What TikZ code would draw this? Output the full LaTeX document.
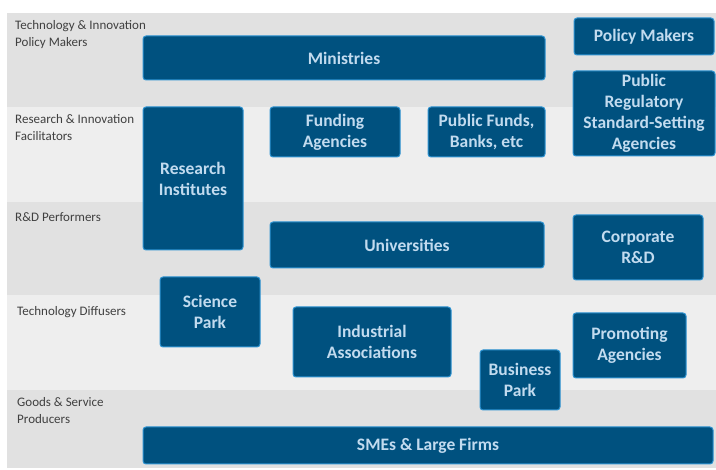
\documentclass[tikz,border=0pt]{standalone}
\usepackage{fontspec}
\setmainfont{Carlito}
\definecolor{bandA}{HTML}{E1E1E1}
\definecolor{bandB}{HTML}{EEEEEE}
\definecolor{boxfill}{HTML}{00517F}
\definecolor{boxline}{HTML}{2E93D1}
\definecolor{boxtext}{HTML}{C2DBEF}
\definecolor{lbltext}{HTML}{404040}
\tikzset{
  actor/.style={draw=boxline, line width=1pt, fill=boxfill, rounded corners=3pt,
    text=boxtext, font=\fontsize{17.5}{21}\selectfont\bfseries, align=center, inner sep=0pt},
  tier/.style={anchor=north west, text=lbltext, font=\fontsize{13}{17}\selectfont,
    align=left, inner sep=0pt}
}
\begin{document}
\begin{tikzpicture}[x=1pt,y=-1pt]
      \useasboundingbox (0,0) rectangle (716,470);
      % tiers
      \fill[bandA] (7,13) rectangle (716,107);
      \fill[bandB] (7,107) rectangle (716,202);
      \fill[bandA] (7,202) rectangle (716,295);
      \fill[bandB] (7,295) rectangle (716,390);
      \fill[bandA] (7,390) rectangle (716,468);
      \node[tier] (t1) at (15,20) {Technology \& Innovation\\Policy Makers};
      \node[tier] (t2) at (15,114) {Research \& Innovation\\Facilitators};
      \node[tier] (t3) at (15,212) {R\&D Performers};
      \node[tier] (t4) at (17,306) {Technology Diffusers};
      \node[tier] (t5) at (17,397) {Goods \& Service\\Producers};
      % actors
      \node[actor, minimum width=402, minimum height=44] (min) at (344,58) {Ministries};
      \node[actor, minimum width=140, minimum height=37] (pm) at (644,36.5) {Policy Makers};
      \node[actor, minimum width=142, minimum height=85] (reg) at (644,113.5) {Public\\Regulatory\\Standard-Setting\\Agencies};
      \node[actor, minimum width=100, minimum height=143] (ri) at (193,178.5) {Research\\Institutes};
      \node[actor, minimum width=130, minimum height=50] (fa) at (335,132) {Funding\\Agencies};
      \node[actor, minimum width=117, minimum height=50] (pf) at (486.5,132) {Public Funds,\\Banks, etc};
      \node[actor, minimum width=274, minimum height=46] (uni) at (407,245) {Universities};
      \node[actor, minimum width=130, minimum height=65] (crd) at (638,247.5) {Corporate\\R\&D};
      \node[actor, minimum width=100, minimum height=70] (sp) at (210,312) {Science\\Park};
      \node[actor, minimum width=158, minimum height=70] (ia) at (372,342) {Industrial\\Associations};
      \node[actor, minimum width=80, minimum height=60] (bp) at (520,380) {Business\\Park};
      \node[actor, minimum width=113, minimum height=65] (pa) at (629.5,345.5) {Promoting\\Agencies};
      \node[actor, minimum width=570, minimum height=37] (sme) at (428,445.5) {SMEs \& Large Firms};
\end{tikzpicture}
\end{document}
